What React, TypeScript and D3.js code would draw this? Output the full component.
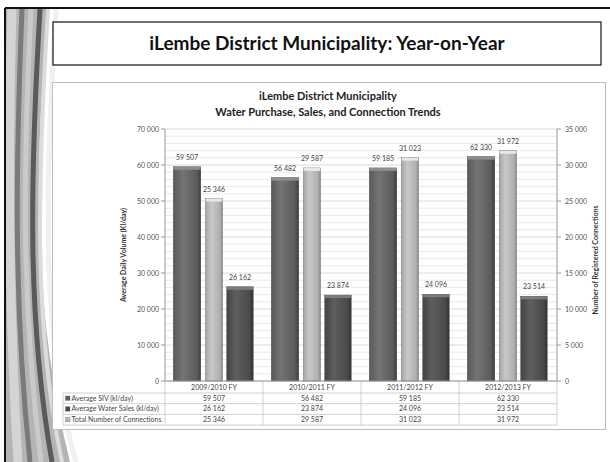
import React from "react";
import * as d3 from "d3";

const categories = ["2009/2010 FY", "2010/2011 FY", "2011/2012 FY", "2012/2013 FY"];
const sivValues = [59507, 56482, 59185, 62330];
const salesValues = [26162, 23874, 24096, 23514];
const connectionValues = [25346, 29587, 31023, 31972];
const leftTicks = [0, 10000, 20000, 30000, 40000, 50000, 60000, 70000];
const rightTicks = [0, 5000, 10000, 15000, 20000, 25000, 30000, 35000];
const seriesNames = ["Average SIV (kl/day)", "Average Water Sales (kl/day)", "Total Number of Connections"];

const W = 610;
const H = 462;
const FONT = "Lato, 'Open Sans', sans-serif";

const locale = d3.formatLocale({ decimal: ".", thousands: "\u00a0", grouping: [3], currency: ["", ""] });
const fmt = locale.format(",d");

export default function App() {
  const plotL = 165, plotR = 557, plotT = 129, plotB = 381;
  const x = d3.scaleBand<string>().domain(categories).range([plotL, plotR]);
  const yL = d3.scaleLinear().domain([0, 70000]).range([plotB, plotT]);
  const yR = d3.scaleLinear().domain([0, 35000]).range([plotB, plotT]);
  const bw = x.bandwidth();
  const minor = d3.range(0, 70001, 2000);

  const series = [
    { name: seriesNames[0], values: sivValues, scale: yL, off: -0.275, w: 0.28, grad: "gDark1", cap: "#8e8e8e" },
    { name: seriesNames[2], values: connectionValues, scale: yR, off: 0.0, w: 0.17, grad: "gLight", cap: "#e8e8e8" },
    { name: seriesNames[1], values: salesValues, scale: yL, off: 0.265, w: 0.27, grad: "gDark2", cap: "#7c7c7c" },
  ];

  const rowTop = 393, rowH = 10.7;
  const tableRows = [
    { name: seriesNames[0], values: sivValues, key: "#5e5e5e" },
    { name: seriesNames[1], values: salesValues, key: "#4a4a4a" },
    { name: seriesNames[2], values: connectionValues, key: "#b5b5b5" },
  ];

  return (
    <svg width={W} height={H} style={{ position: "absolute", left: 0, top: 0, background: "#fff" }} fontFamily={FONT}>
      <defs>
        <linearGradient id="gDark1" x1="0" x2="1" y1="0" y2="0">
          <stop offset="0" stopColor="#5a5a5a" />
          <stop offset="0.35" stopColor="#747474" />
          <stop offset="0.85" stopColor="#5c5c5c" />
          <stop offset="1" stopColor="#3e3e3e" />
        </linearGradient>
        <linearGradient id="gDark2" x1="0" x2="1" y1="0" y2="0">
          <stop offset="0" stopColor="#444" />
          <stop offset="0.35" stopColor="#5e5e5e" />
          <stop offset="0.85" stopColor="#4a4a4a" />
          <stop offset="1" stopColor="#333" />
        </linearGradient>
        <linearGradient id="gLight" x1="0" x2="1" y1="0" y2="0">
          <stop offset="0" stopColor="#a8a8a8" />
          <stop offset="0.35" stopColor="#c8c8c8" />
          <stop offset="0.85" stopColor="#b0b0b0" />
          <stop offset="1" stopColor="#8e8e8e" />
        </linearGradient>
        <clipPath id="slideClip">
          <rect x={6} y={9} width={W - 6} height={H - 9} />
        </clipPath>
      </defs>

      <rect x={0} y={0} width={W} height={H} fill="#fff" />
      <g clipPath="url(#slideClip)">
        <path d="M6 9 L48 9 C36 150, 30 300, 70 462 L6 462 Z" fill="#b4b4b4" />
        <path d="M12 9 C8 150, 8 300, 18 462" stroke="#d4d4d4" strokeWidth={9} fill="none" />
        <path d="M22 9 C16 160, 13 300, 30 462" stroke="#7a7a7a" strokeWidth={5} fill="none" />
        <path d="M31 9 C23 170, 21 300, 41 462" stroke="#cacaca" strokeWidth={5} fill="none" />
        <path d="M40 9 C30 180, 27 320, 52 462" stroke="#5a5a5a" strokeWidth={5} fill="none" />
        <path d="M48 9 C37 190, 34 330, 62 462" stroke="#dcdcdc" strokeWidth={4} fill="none" />
        <path d="M56 9 C44 200, 42 340, 76 462" stroke="#f0f0f0" strokeWidth={5} fill="none" />
      </g>
      <line x1={5} y1={8} x2={W} y2={8} stroke="#111" strokeWidth={2} />
      <line x1={5} y1={8} x2={5} y2={H} stroke="#111" strokeWidth={2} />

      <rect x={53} y={22} width={548} height={43} fill="#fff" stroke="#111" strokeWidth={1.2} />
      <text x={327} y={50} textAnchor="middle" fontSize={19} fontWeight={700} fill="#111">
        iLembe District Municipality: Year-on-Year
      </text>

      <rect x={52.5} y={82.5} width={553} height={347} fill="#fff" stroke="#bdbdbd" strokeWidth={1} />
      <text x={328} y={100} textAnchor="middle" fontSize={11} fontWeight={700} fill="#222">iLembe District Municipality</text>
      <text x={328} y={116} textAnchor="middle" fontSize={11} fontWeight={700} fill="#222">Water Purchase, Sales, and Connection Trends</text>

      {minor.map((v) => (
        <line key={"g" + v} x1={plotL} x2={plotR} y1={yL(v)} y2={yL(v)} stroke={v % 10000 === 0 ? "#cfcfcf" : "#e3e3e3"} strokeWidth={0.8} />
      ))}

      <line x1={plotL} x2={plotL} y1={plotT} y2={plotB} stroke="#9a9a9a" />
      <line x1={plotR} x2={plotR} y1={plotT} y2={plotB} stroke="#9a9a9a" />
      {leftTicks.map((v) => (
        <g key={"l" + v}>
          <line x1={plotL - 4} x2={plotL} y1={yL(v)} y2={yL(v)} stroke="#9a9a9a" />
          <text x={plotL - 6} y={yL(v) + 2.5} textAnchor="end" fontSize={7} fill="#555">{fmt(v)}</text>
        </g>
      ))}
      {rightTicks.map((v) => (
        <g key={"r" + v}>
          <line x1={plotR} x2={plotR + 4} y1={yR(v)} y2={yR(v)} stroke="#9a9a9a" />
          <text x={plotR + 8} y={yR(v) + 2.5} textAnchor="start" fontSize={7} fill="#555">{fmt(v)}</text>
        </g>
      ))}
      <text transform={`translate(126,${(plotT + plotB) / 2}) rotate(-90)`} textAnchor="middle" fontSize={7} fontWeight={700} fill="#333">
        Average Daily Volume (Kl/day)
      </text>
      <text transform={`translate(598,${(plotT + plotB) / 2 + 5}) rotate(-90)`} textAnchor="middle" fontSize={7} fontWeight={700} fill="#333">
        Number of Registered Connections
      </text>

      {series.map((s, si) =>
        categories.map((c, i) => {
          const cx = (x(c) as number) + bw / 2 + s.off * bw;
          const w = s.w * bw;
          const top = s.scale(s.values[i]);
          return (
            <g key={si + "-" + i}>
              <rect x={cx - w / 2} y={top} width={w} height={plotB - top} fill={`url(#${s.grad})`} stroke="#3a3a3a" strokeWidth={0.4} />
              <rect x={cx - w / 2} y={top} width={w} height={3} fill={s.cap} />
              <text x={cx} y={top - 7} textAnchor="middle" fontSize={7} fill="#444">{fmt(s.values[i])}</text>
            </g>
          );
        })
      )}
      <line x1={plotL} x2={plotR} y1={plotB} y2={plotB} stroke="#9a9a9a" />

      {categories.map((c) => (
        <text key={"c" + c} x={(x(c) as number) + bw / 2} y={plotB + 8.5} textAnchor="middle" fontSize={7} fill="#444">{c}</text>
      ))}
      {[...categories.map((c) => x(c) as number), plotR].map((xx, i) => (
        <line key={"v" + i} x1={xx} x2={xx} y1={plotB} y2={rowTop + rowH * 3} stroke="#c4c4c4" strokeWidth={0.8} />
      ))}
      <line x1={63} x2={63} y1={rowTop} y2={rowTop + rowH * 3} stroke="#c4c4c4" strokeWidth={0.8} />
      {d3.range(4).map((k) => (
        <line key={"h" + k} x1={63} x2={plotR} y1={rowTop + rowH * k} y2={rowTop + rowH * k} stroke="#c4c4c4" strokeWidth={0.8} />
      ))}
      {tableRows.map((r, ri) => (
        <g key={"row" + ri}>
          <rect x={65.5} y={rowTop + rowH * ri + 3} width={4.5} height={4.5} fill={r.key} stroke="#666" strokeWidth={0.3} />
          <text x={71.5} y={rowTop + rowH * ri + 7.6} fontSize={7} fill="#444">{r.name}</text>
          {categories.map((c, i) => (
            <text key={c} x={(x(c) as number) + bw / 2} y={rowTop + rowH * ri + 7.6} textAnchor="middle" fontSize={7} fill="#444">{fmt(r.values[i])}</text>
          ))}
        </g>
      ))}
    </svg>
  );
}
